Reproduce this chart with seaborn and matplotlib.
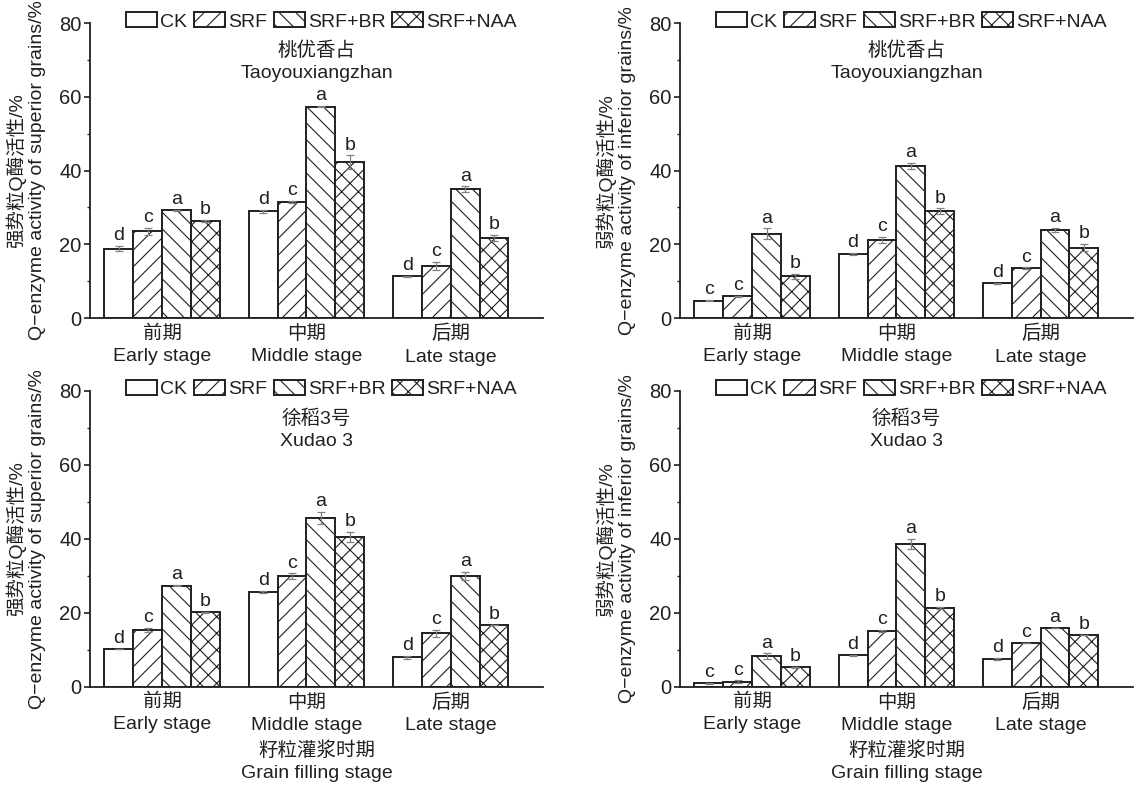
import numpy as np
import pandas as pd
import matplotlib
matplotlib.use('Agg')
import matplotlib.pyplot as plt
import seaborn as sns
from matplotlib.ticker import MultipleLocator

# categories
stages = ['前期\nEarly stage', '中期\nMiddle stage', '后期\nLate stage']
treatments = ['CK', 'SRF', 'SRF+BR', 'SRF+NAA']
hatches = ['', '//', '\\\\', 'xx']

# rows = treatments, cols = stages
tao_sup = [[18.8, 28.9, 11.3], [23.5, 31.5, 14.1], [29.2, 57.3, 34.9], [26.3, 42.3, 21.8]]
tao_sup_err = [[0.7, 0.4, 0.1], [1.0, 0.2, 1.0], [0.2, 0.2, 0.8], [0.2, 1.8, 0.8]]
tao_sup_sig = [['d', 'd', 'd'], ['c', 'c', 'c'], ['a', 'a', 'a'], ['b', 'b', 'b']]

tao_inf = [[4.7, 17.3, 9.4], [5.9, 21.2, 13.5], [22.8, 41.3, 23.8], [11.3, 28.9, 19.1]]
tao_inf_err = [[0.2, 0.3, 0.2], [0.1, 0.9, 0.2], [1.5, 0.8, 0.6], [0.7, 0.8, 0.9]]
tao_inf_sig = [['c', 'd', 'd'], ['c', 'c', 'c'], ['a', 'a', 'a'], ['b', 'b', 'b']]

xu_sup = [[10.2, 25.6, 7.9], [15.3, 29.9, 14.4], [27.3, 45.6, 30.0], [20.1, 40.4, 16.7]]
xu_sup_err = [[0.1, 0.2, 0.5], [0.5, 0.7, 1.0], [0.2, 1.7, 1.1], [0.1, 1.4, 0.1]]
xu_sup_sig = [['d', 'd', 'd'], ['c', 'c', 'c'], ['a', 'a', 'a'], ['b', 'b', 'b']]

xu_inf = [[0.9, 8.5, 7.5], [1.4, 15.1, 11.8], [8.3, 38.6, 15.9], [5.2, 21.3, 14.0]]
xu_inf_err = [[0.1, 0.2, 0.2], [0.3, 0.2, 0.1], [0.7, 1.3, 0.1], [0.1, 0.3, 0.1]]
xu_inf_sig = [['c', 'd', 'd'], ['c', 'c', 'c'], ['a', 'a', 'a'], ['b', 'b', 'b']]

ylab_sup = '强势粒Q酶活性/%\nQ−enzyme activity of superior grains/%'
ylab_inf = '弱势粒Q酶活性/%\nQ−enzyme activity of inferior grains/%'

sns.set_style('ticks')
plt.rcParams['font.family'] = ['Liberation Sans', 'Noto Sans CJK SC']
plt.rcParams['hatch.linewidth'] = 0.8
ink = '#231f20'
plt.rcParams['text.color'] = ink
plt.rcParams['axes.labelcolor'] = ink
plt.rcParams['xtick.color'] = ink
plt.rcParams['ytick.color'] = ink
fs = 14


def panel(ax, vals, errs, sigs, ylabel, cn, en, xlabel=None):
    rows = []
    for i, t in enumerate(treatments):
        for j, s in enumerate(stages):
            rows.append({'stage': s, 'treatment': t, 'value': vals[i][j]})
    df = pd.DataFrame(rows)
    sns.barplot(data=df, x='stage', y='value', hue='treatment', order=stages,
                hue_order=treatments, palette=['white'] * 4, saturation=1,
                edgecolor=ink, linewidth=1.4, width=0.8, errorbar=None,
                legend=False, ax=ax)
    bars = list(ax.containers)
    for i, cont in enumerate(bars):
        for j, bar in enumerate(cont):
            bar.set_hatch(hatches[i])
            x = bar.get_x() + bar.get_width() / 2
            h = bar.get_height()
            ax.errorbar(x, h, yerr=errs[i][j], color='0.5', capsize=3,
                        lw=0.9, capthick=0.9, zorder=4)
            ax.text(x, h + errs[i][j] + 0.5, sigs[i][j], ha='center',
                    va='bottom', fontsize=fs)
    ax.legend([c.patches[0] for c in bars], treatments, loc='center',
              bbox_to_anchor=(0.511, 1.005), ncol=4, frameon=False,
              fontsize=fs, handlelength=1.6, handleheight=0.8,
              handletextpad=0.15, columnspacing=0.35, borderpad=0)
    ax.text(0.5, 72.5, cn, ha='center', va='center', fontsize=fs,
            transform=ax.get_yaxis_transform())
    ax.text(0.5, 66.3, en, ha='center', va='center', fontsize=fs,
            transform=ax.get_yaxis_transform())
    ax.set_xlim(-0.5, 2.64)
    ax.set_ylim(0, 80)
    ax.yaxis.set_major_locator(MultipleLocator(20))
    ax.yaxis.set_minor_locator(MultipleLocator(10))
    ax.tick_params(axis='y', which='major', direction='out', length=4,
                   width=1.2, labelsize=fs + 0.5, pad=2)
    ax.tick_params(axis='y', which='minor', direction='out', length=2.5,
                   width=1.0)
    ax.tick_params(axis='x', length=0, labelsize=fs, pad=5)
    for lbl in ax.get_xticklabels():
        lbl.set_linespacing(1.4)
    for sp in ['top', 'right']:
        ax.spines[sp].set_visible(False)
    for sp in ['left', 'bottom']:
        ax.spines[sp].set_linewidth(1.3)
        ax.spines[sp].set_color(ink)
    ax.set_ylabel(ylabel, fontsize=fs, linespacing=1.25)
    ax.yaxis.set_label_coords(-0.097, 0.5)
    if xlabel:
        ax.set_xlabel(xlabel, fontsize=fs, linespacing=1.38, labelpad=5)
    else:
        ax.set_xlabel('')


fig = plt.figure(figsize=(11.34, 7.85), dpi=100)
ax1 = fig.add_axes([0.0794, 0.5949, 0.3995, 0.3758])
ax2 = fig.add_axes([0.5996, 0.5949, 0.3995, 0.3758])
ax3 = fig.add_axes([0.0794, 0.1252, 0.3995, 0.3771])
ax4 = fig.add_axes([0.5996, 0.1252, 0.3995, 0.3771])

panel(ax1, tao_sup, tao_sup_err, tao_sup_sig, ylab_sup, '桃优香占', 'Taoyouxiangzhan')
panel(ax2, tao_inf, tao_inf_err, tao_inf_sig, ylab_inf, '桃优香占', 'Taoyouxiangzhan')
panel(ax3, xu_sup, xu_sup_err, xu_sup_sig, ylab_sup, '徐稻3号', 'Xudao 3',
      xlabel='籽粒灌浆时期\nGrain filling stage')
panel(ax4, xu_inf, xu_inf_err, xu_inf_sig, ylab_inf, '徐稻3号', 'Xudao 3',
      xlabel='籽粒灌浆时期\nGrain filling stage')

fig.savefig('out.png', dpi=100)
